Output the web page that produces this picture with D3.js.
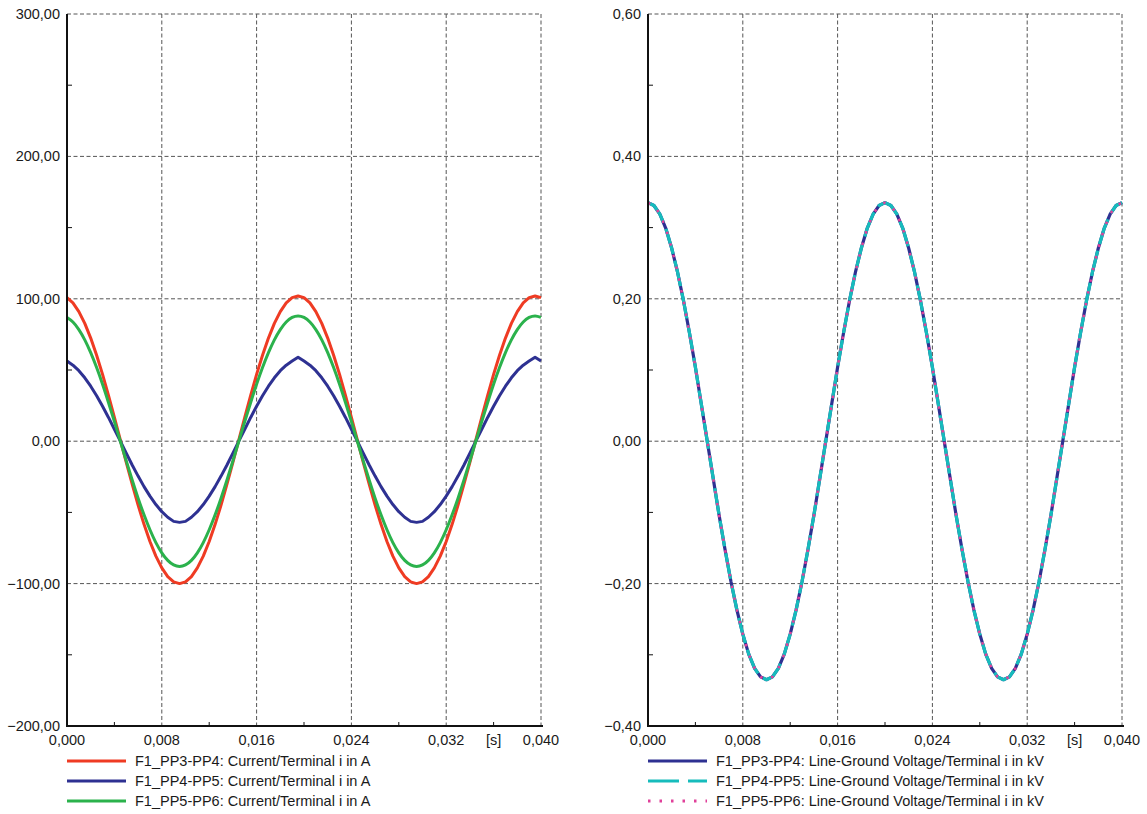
<!DOCTYPE html>
<html>
<head>
<meta charset="utf-8">
<script src="https://cdn.jsdelivr.net/npm/d3@7/dist/d3.min.js"></script>
<style>
  body { margin: 0; background: #fff; }
  svg { display: block; font-family: "Liberation Sans", Arial, sans-serif; }
</style>
</head>
<body>
<svg id="chart" width="1147" height="814"></svg>
<script>
// sample times in ms (0 .. 40 ms, every 0.5 ms)
var timeMs = [0,0.5,1,1.5,2,2.5,3,3.5,4,4.5,5,5.5,6,6.5,7,7.5,8,8.5,9,9.5,
  10,10.5,11,11.5,12,12.5,13,13.5,14,14.5,15,15.5,16,16.5,17,17.5,18,18.5,19,19.5,
  20,20.5,21,21.5,22,22.5,23,23.5,24,24.5,25,25.5,26,26.5,27,27.5,28,28.5,29,29.5,
  30,30.5,31,31.5,32,32.5,33,33.5,34,34.5,35,35.5,36,36.5,37,37.5,38,38.5,39,39.5,40];

// currents in A
var iPP34 = [100.8,97.1,91.0,82.7,72.4,60.4,46.9,32.2,16.8,1.0,-14.8,-30.2,-44.9,-58.4,-70.4,-80.7,-89.0,-95.1,-98.8,-100.0,
  -98.8,-95.1,-89.0,-80.7,-70.4,-58.4,-44.9,-30.2,-14.8,1.0,16.8,32.2,46.9,60.4,72.4,82.7,91.0,97.1,100.8,102.0,
  100.8,97.1,91.0,82.7,72.4,60.4,46.9,32.2,16.8,1.0,-14.8,-30.2,-44.9,-58.4,-70.4,-80.7,-89.0,-95.1,-98.8,-100.0,
  -98.8,-95.1,-89.0,-80.7,-70.4,-58.4,-44.9,-30.2,-14.8,1.0,16.8,32.2,46.9,60.4,72.4,82.7,91.0,97.1,100.8,102.0,100.8];
var iPP45 = [56.3,53.4,49.5,44.5,38.6,31.9,24.5,16.7,8.4,0.0,-8.4,-16.7,-24.5,-31.9,-38.6,-44.5,-49.5,-53.4,-56.3,-57.0,
  -56.3,-53.4,-49.5,-44.5,-38.6,-31.9,-24.5,-16.7,-8.4,0.0,8.4,16.7,24.5,31.9,38.6,44.5,49.5,53.4,56.3,59.0,
  56.3,53.4,49.5,44.5,38.6,31.9,24.5,16.7,8.4,0.0,-8.4,-16.7,-24.5,-31.9,-38.6,-44.5,-49.5,-53.4,-56.3,-57.0,
  -56.3,-53.4,-49.5,-44.5,-38.6,-31.9,-24.5,-16.7,-8.4,0.0,8.4,16.7,24.5,31.9,38.6,44.5,49.5,53.4,56.3,59.0,56.3];
var iPP56 = [86.9,83.7,78.4,71.2,62.2,51.7,40.0,27.2,13.8,0.0,-13.8,-27.2,-40.0,-51.7,-62.2,-71.2,-78.4,-83.7,-86.9,-88.0,
  -86.9,-83.7,-78.4,-71.2,-62.2,-51.7,-40.0,-27.2,-13.8,0.0,13.8,27.2,40.0,51.7,62.2,71.2,78.4,83.7,86.9,88.0,
  86.9,83.7,78.4,71.2,62.2,51.7,40.0,27.2,13.8,0.0,-13.8,-27.2,-40.0,-51.7,-62.2,-71.2,-78.4,-83.7,-86.9,-88.0,
  -86.9,-83.7,-78.4,-71.2,-62.2,-51.7,-40.0,-27.2,-13.8,0.0,13.8,27.2,40.0,51.7,62.2,71.2,78.4,83.7,86.9,88.0,86.9];

// line-ground voltages in kV (the three terminals lie on top of each other)
var vPP34 = [0.335,0.331,0.319,0.299,0.271,0.237,0.197,0.152,0.104,0.052,0.000,-0.052,-0.104,-0.152,-0.197,-0.237,-0.271,-0.299,-0.319,-0.331,
  -0.335,-0.331,-0.319,-0.299,-0.271,-0.237,-0.197,-0.152,-0.104,-0.052,0.000,0.052,0.104,0.152,0.197,0.237,0.271,0.299,0.319,0.331,
  0.335,0.331,0.319,0.299,0.271,0.237,0.197,0.152,0.104,0.052,0.000,-0.052,-0.104,-0.152,-0.197,-0.237,-0.271,-0.299,-0.319,-0.331,
  -0.335,-0.331,-0.319,-0.299,-0.271,-0.237,-0.197,-0.152,-0.104,-0.052,0.000,0.052,0.104,0.152,0.197,0.237,0.271,0.299,0.319,0.331,0.335];
var vPP45 = vPP34;
var vPP56 = vPP34;

var xTicks = [0, 8, 16, 24, 32, 40];
var xMinor = [4, 12, 20, 28, 36];
var currentTicks = [-200, -100, 0, 100, 200, 300];
var voltageTicks = [-0.4, -0.2, 0, 0.2, 0.4, 0.6];

var currentNames = ["F1_PP3-PP4: Current/Terminal i in A",
                    "F1_PP4-PP5: Current/Terminal i in A",
                    "F1_PP5-PP6: Current/Terminal i in A"];
var voltageNames = ["F1_PP3-PP4: Line-Ground Voltage/Terminal i in kV",
                    "F1_PP4-PP5: Line-Ground Voltage/Terminal i in kV",
                    "F1_PP5-PP6: Line-Ground Voltage/Terminal i in kV"];

var locale = d3.formatLocale({decimal: ",", thousands: ".", grouping: [3], currency: ["", ""]});

var svg = d3.select("#chart");
svg.append("rect").attr("width", 1147).attr("height", 814).attr("fill", "#fff");

function drawPanel(left, yTicks, yFmt, series, names) {
  var top = 14, w = 474, h = 712;
  var x = d3.scaleLinear().domain([0, 40]).range([left, left + w]);
  var y = d3.scaleLinear().domain([yTicks[0], yTicks[yTicks.length - 1]]).range([top + h, top]);
  var g = svg.append("g");

  // grid
  g.selectAll(".hgrid").data(yTicks.slice(1)).enter().append("line")
    .attr("x1", left).attr("x2", left + w)
    .attr("y1", function(d) { return y(d); }).attr("y2", function(d) { return y(d); })
    .attr("stroke", "#555").attr("stroke-width", 1).attr("stroke-dasharray", "4,2.5");
  g.selectAll(".vgrid").data(xTicks.slice(1)).enter().append("line")
    .attr("x1", function(d) { return x(d); }).attr("x2", function(d) { return x(d); })
    .attr("y1", top).attr("y2", top + h)
    .attr("stroke", "#555").attr("stroke-width", 1).attr("stroke-dasharray", "4,2.5");

  // minor ticks
  var yMinor = [];
  for (var i = 0; i < yTicks.length - 1; i++) yMinor.push((yTicks[i] + yTicks[i + 1]) / 2);
  g.selectAll(".ym").data(yMinor).enter().append("line")
    .attr("x1", left).attr("x2", left + 5)
    .attr("y1", function(d) { return y(d); }).attr("y2", function(d) { return y(d); })
    .attr("stroke", "#111").attr("stroke-width", 1);
  g.selectAll(".xm").data(xMinor).enter().append("line")
    .attr("x1", function(d) { return x(d); }).attr("x2", function(d) { return x(d); })
    .attr("y1", top + h).attr("y2", top + h - 4)
    .attr("stroke", "#111").attr("stroke-width", 1);

  // curves
  series.forEach(function(s) {
    var line = d3.line()
      .x(function(d, i) { return x(timeMs[i]); })
      .y(function(d) { return y(d); })
      .curve(s.curve || d3.curveLinear);
    g.append("path").datum(s.values)
      .attr("d", line)
      .attr("fill", "none")
      .attr("stroke", s.color)
      .attr("stroke-width", s.width)
      .attr("stroke-dasharray", s.dash || null)
      .attr("stroke-linejoin", "round");
  });

  // axes
  g.append("line").attr("x1", left).attr("x2", left).attr("y1", top).attr("y2", top + h + 1)
    .attr("stroke", "#111").attr("stroke-width", 2);
  g.append("line").attr("x1", left - 1).attr("x2", left + w + 2).attr("y1", top + h).attr("y2", top + h)
    .attr("stroke", "#111").attr("stroke-width", 2);

  // tick labels
  g.selectAll(".yl").data(yTicks).enter().append("text")
    .attr("x", left - 7).attr("y", function(d) { return y(d) + 5; })
    .attr("text-anchor", "end").attr("font-size", "14.5px").attr("fill", "#1a1a1a")
    .text(function(d) { return locale.format(yFmt)(d); });
  g.selectAll(".xl").data(xTicks).enter().append("text")
    .attr("x", function(d) { return x(d); }).attr("y", top + h + 19)
    .attr("text-anchor", "middle").attr("font-size", "14.5px").attr("fill", "#1a1a1a")
    .text(function(d) { return locale.format(".3f")(d / 1000); });
  g.append("text")
    .attr("x", x(36)).attr("y", top + h + 19)
    .attr("text-anchor", "middle").attr("font-size", "14.5px").attr("fill", "#1a1a1a")
    .text("[s]");

  // legend
  var leg = g.selectAll(".legend").data(series).enter().append("g")
    .attr("transform", function(d, i) { return "translate(" + left + "," + (761 + i * 20) + ")"; });
  leg.append("line")
    .attr("x1", 0).attr("x2", 59).attr("y1", 0).attr("y2", 0)
    .attr("stroke", function(d) { return d.color; })
    .attr("stroke-width", function(d) { return d.legendWidth || d.width; })
    .attr("stroke-dasharray", function(d) { return d.legendDash || d.dash || null; });
  leg.append("text")
    .attr("x", 68).attr("y", 5)
    .attr("font-size", "14.5px").attr("fill", "#1a1a1a")
    .text(function(d, i) { return names[i]; });
}

drawPanel(67, currentTicks, ".2f", [
  {values: iPP34, color: "#ef3b23", width: 3},
  {values: iPP45, color: "#2e3192", width: 3},
  {values: iPP56, color: "#2bb24c", width: 3, curve: d3.curveMonotoneX}
], currentNames);

drawPanel(648, voltageTicks, ".2f", [
  {values: vPP34, color: "#2e3192", width: 3.2},
  {values: vPP45, color: "#16bcbc", width: 3.2, dash: "26,7", legendDash: "31,9"},
  {values: vPP56, color: "#e0409a", width: 2.5, legendWidth: 3, dash: "2.5,9.5", legendDash: "2.5,9"}
], voltageNames);
</script>
</body>
</html>
